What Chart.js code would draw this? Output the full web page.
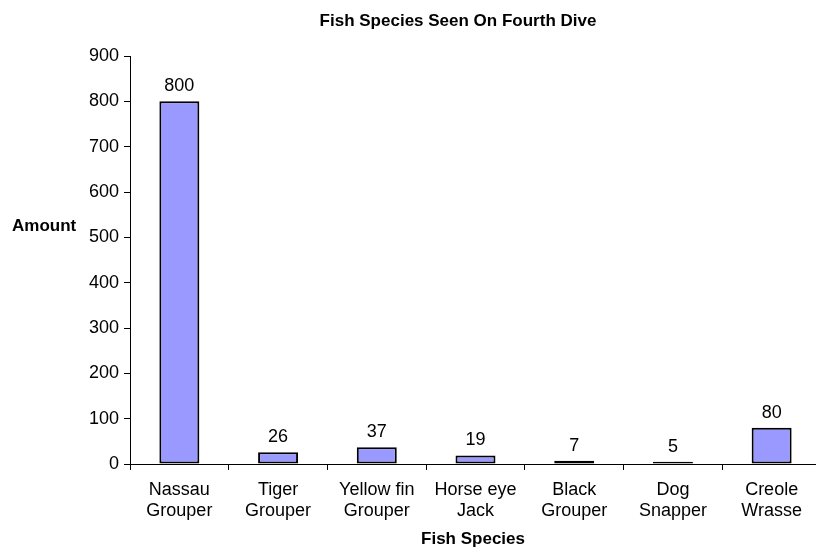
<!DOCTYPE html>
<html>
<head>
<meta charset="utf-8">
<script src="https://cdn.jsdelivr.net/npm/chart.js@4.4.0/dist/chart.umd.min.js"></script>
<style>
html,body{margin:0;padding:0;background:#fff;overflow:hidden;width:816px;height:554px;}
#wrap{width:830px;height:554px;position:relative;}
</style>
</head>
<body>
<div id="wrap"><canvas id="c" width="830" height="554"></canvas></div>
<script>
const categories = [["Nassau","Grouper"],["Tiger","Grouper"],["Yellow fin","Grouper"],["Horse eye","Jack"],["Black","Grouper"],["Dog","Snapper"],["Creole","Wrasse"]];
const amounts = [800, 26, 37, 19, 7, 5, 80];
const chartTitle = "Fish Species Seen On Fourth Dive";
const xTitle = "Fish Species";
const yTitle = "Amount";

const FONT = "'Liberation Sans', Arial, sans-serif";

const overlay = {
  id: 'overlay',
  afterDatasetsDraw(chart) {
    const ctx = chart.ctx;
    const meta = chart.getDatasetMeta(0);
    ctx.save();
    ctx.fillStyle = '#000';
    ctx.font = '18px ' + FONT;
    ctx.textAlign = 'center';
    ctx.textBaseline = 'alphabetic';
    meta.data.forEach((bar, i) => {
      ctx.fillText(String(amounts[i]), bar.x, bar.y - 10);
    });
    ctx.font = 'bold 17px ' + FONT;
    ctx.textBaseline = 'middle';
    ctx.fillText(chartTitle, 458, 21);
    ctx.fillText(xTitle, 473, 539);
    ctx.textAlign = 'left';
    ctx.fillText(yTitle, 12, 226);
    ctx.restore();
  }
};

new Chart(document.getElementById('c'), {
  type: 'bar',
  data: {
    labels: categories,
    datasets: [{
      data: amounts,
      backgroundColor: '#9999FF',
      borderColor: '#000',
      borderWidth: 2,
      borderSkipped: false,
      categoryPercentage: 1,
      barPercentage: 0.405
    }]
  },
  options: {
    responsive: false,
    animation: false,
    devicePixelRatio: 1,
    layout: { padding: { top: 56, right: 9, left: 0, bottom: 0 } },
    plugins: { legend: { display: false }, title: { display: false }, tooltip: { enabled: false } },
    scales: {
      x: {
        grid: { display: true, drawOnChartArea: false, offset: true, color: '#000', tickLength: 6, lineWidth: 1 },
        border: { display: true, color: '#000', width: 1 },
        ticks: { color: '#000', font: { size: 18, family: FONT }, padding: 9, maxRotation: 0, autoSkip: false },
        afterFit(s) { s.height = 90; }
      },
      y: {
        min: 0, max: 900,
        grid: { display: true, drawOnChartArea: false, color: '#000', tickLength: 6 },
        border: { display: true, color: '#000', width: 1 },
        ticks: { stepSize: 100, color: '#000', font: { size: 18, family: FONT }, padding: 5 },
        afterFit(s) { s.width = 130; }
      }
    }
  },
  plugins: [overlay]
});
</script>
</body>
</html>
